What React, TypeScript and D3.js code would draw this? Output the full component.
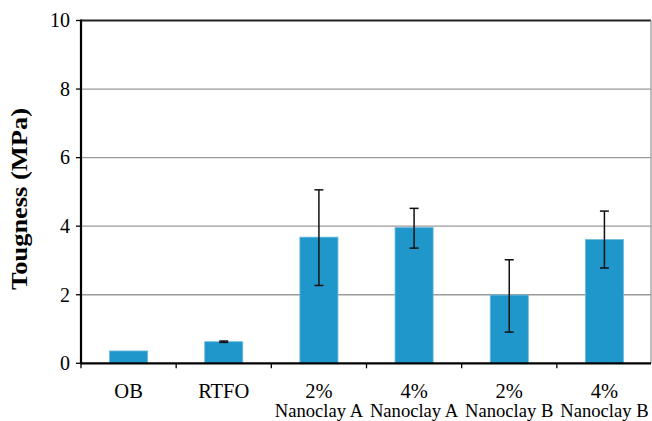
import React from "react";
import * as d3 from "d3";

const categories = ["OB", "RTFO", "2%|Nanoclay A", "4%|Nanoclay A", "2%|Nanoclay B", "4%|Nanoclay B"];
const values = [0.36, 0.63, 3.68, 3.96, 1.99, 3.61];
const errLow = [null, 0.61, 2.27, 3.36, 0.91, 2.78];
const errHigh = [null, 0.65, 5.06, 4.52, 3.02, 4.44];
const yTicks = [0, 2, 4, 6, 8, 10];
const yLabel = "Tougness (MPa)";

export default function App() {
  const W = 652, H = 421;
  const left = 81, right = 652, top = 20.5, bottom = 363.3;
  const x = d3.scaleBand<string>().domain(categories).range([left, right]).paddingInner(0).paddingOuter(0);
  const y = d3.scaleLinear().domain([0, 10]).range([bottom, top]);
  const bw = x.bandwidth() / 2.5;
  const font = "'Liberation Serif', 'Times New Roman', serif";
  return (
    <svg width={W} height={H} style={{ position: "absolute", left: 0, top: 0, background: "#fff", fontFamily: font }}>
      {yTicks.filter(t => t > 0 && t < 10).map(t => (
        <line key={"g" + t} x1={left} x2={651} y1={y(t)} y2={y(t)} stroke="#9a9a9a" strokeWidth={1.3} />
      ))}
      <line x1={left} x2={651} y1={top} y2={top} stroke="#222" strokeWidth={2} />
      <line x1={651} x2={651} y1={top} y2={bottom} stroke="#9a9a9a" strokeWidth={1.3} />
      {categories.map((c, i) => {
        const cx = (x(c) as number) + x.bandwidth() / 2;
        return (
          <rect key={"b" + i} x={cx - bw / 2} y={y(values[i])} width={bw} height={bottom - y(values[i])}
            fill="#2097cb" stroke="#6ab9de" strokeWidth={0.8} />
        );
      })}
      {categories.map((c, i) => {
        if (errLow[i] == null) return null;
        const cx = (x(c) as number) + x.bandwidth() / 2;
        const lo = y(errLow[i] as number), hi = y(errHigh[i] as number);
        return (
          <g key={"e" + i} stroke="#111" strokeWidth={1.5}>
            <line x1={cx} x2={cx} y1={hi} y2={lo} />
            <line x1={cx - 4.5} x2={cx + 4.5} y1={hi} y2={hi} />
            <line x1={cx - 4.5} x2={cx + 4.5} y1={lo} y2={lo} />
          </g>
        );
      })}
      <line x1={left} x2={651} y1={bottom} y2={bottom} stroke="#000" strokeWidth={2.2} />
      <line x1={left} x2={left} y1={top - 1} y2={bottom + 1} stroke="#000" strokeWidth={2.2} />
      {yTicks.map(t => (
        <g key={"t" + t}>
          <line x1={left - 5} x2={left} y1={y(t)} y2={y(t)} stroke="#000" strokeWidth={1.3} />
          <text x={70} y={y(t)} dy="0.34em" textAnchor="end" fontSize={20} fill="#000">{t}</text>
        </g>
      ))}
      {categories.map((c, i) => (
        <line key={"xt" + i} x1={x(c) as number} x2={x(c) as number} y1={bottom} y2={bottom + 5} stroke="#000" strokeWidth={1.3} />
      ))}
      {categories.map((c, i) => {
        const cx = (x(c) as number) + x.bandwidth() / 2;
        const parts = c.split("|");
        return (
          <g key={"l" + i}>
            <text x={cx} y={398} textAnchor="middle" fontSize={20.5} fill="#000">{parts[0]}</text>
            {parts[1] && <text x={cx} y={417} textAnchor="middle" fontSize={18.6} fill="#000">{parts[1]}</text>}
          </g>
        );
      })}
      <text transform={`translate(27,199) rotate(-90)`} textAnchor="middle" fontSize={23} fontWeight="bold" fill="#000"
        textLength={182} lengthAdjust="spacingAndGlyphs">{yLabel}</text>
    </svg>
  );
}
